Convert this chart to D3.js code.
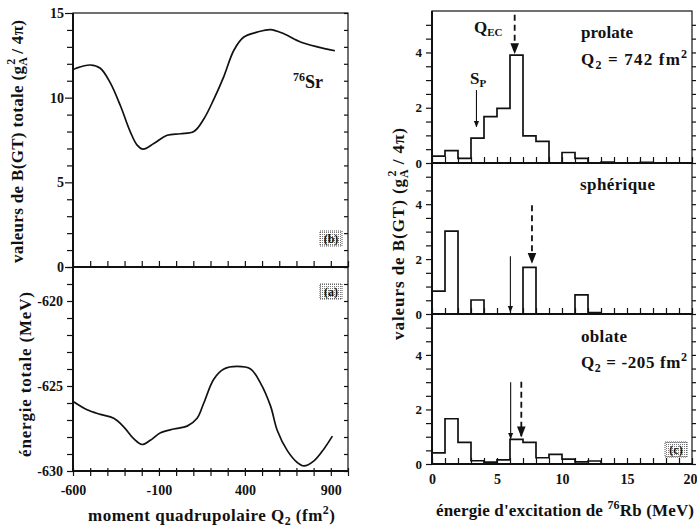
<!DOCTYPE html>
<html><head><meta charset="utf-8">
<script src="https://cdn.jsdelivr.net/npm/d3@7"></script>
<style>body{margin:0;background:#fff}svg{display:block}text{font-family:"Liberation Serif","DejaVu Serif",serif;font-weight:bold;fill:#111}</style>
</head><body>
<script>
// ---- Data ----
// Panel (b): total B(GT) vs Q2
const qB = [-600,-581,-499,-441,-383,-324,-266,-227,-192,-130,-52,25,103,161,219,278,336,394,472,550,627,724,821,924];
const bgtTotal = [11.65,11.74,11.93,11.74,10.87,9.52,7.97,7.2,6.96,7.29,7.78,7.87,8.0,8.74,9.9,11.26,12.8,13.58,13.87,14.02,13.77,13.29,13.0,12.77];
// Panel (a): total energy vs Q2
const qE = [-600,-592,-518,-441,-363,-305,-247,-198,-150,-91,-14,64,122,161,219,278,355,433,491,550,588,647,705,744,802,860,909];
const energyTotal = [-625.9,-625.96,-626.4,-626.67,-626.9,-627.4,-628.1,-628.44,-628.19,-627.75,-627.53,-627.36,-626.9,-626.0,-624.6,-624.0,-623.85,-624.0,-624.83,-626.2,-627.6,-628.8,-629.5,-629.7,-629.4,-628.7,-627.95];
const qTicksMajor = [-600,-100,400,900];
const bTicksMajor = [0,5,10,15];
const eTicksMajor = [-630,-625,-620];
// Panel (c): B(GT) distributions, 1 MeV bins
const binEdges = [0,1,2,3,4,5,6,7,8,9,10,11,12,13,14,15,16,17,18,19,20];
const shapes = ["prolate","sphérique","oblate"];
const prolate  = [0.25,0.45,0.17,0.9,1.68,1.98,3.9,0.98,0.78,0,0.38,0.17,0,0.03,0,0,0.02,0,0,0];
const spherique= [0.83,3.02,0,0.51,0,0,0,1.7,0,0,0,0.7,0.05,0,0,0,0,0,0,0];
const oblate   = [0.41,1.66,0.79,0.12,0.07,0.15,0.9,0.79,0.23,0.35,0.18,0.08,0.11,0,0,0,0,0,0,0];
const eTicksMajorC = [0,5,10,15,20];
const yTicksMajorC = [0,2,4];
// arrows: panel, energy, from, to, dashed
const arrowPanel = [0,0,1,1,2,2];
const arrowE     = [3.42,6.36,6.03,7.69,6.05,6.87];
const arrowFrom  = [2.64,5.36,2.1,3.96,3.0,3.02];
const arrowTo    = [1.31,3.98,0.08,1.87,0.93,1.02];
const arrowDash  = [false,true,false,true,false,true];

const W=697,H=529;
const svg=d3.select("body").append("svg").attr("width",W).attr("height",H);
const defs=svg.append("defs");
defs.append("marker").attr("id","ah").attr("viewBox","0 0 10 10").attr("refX",9).attr("refY",5)
 .attr("markerWidth",6).attr("markerHeight",6).attr("orient","auto")
 .append("path").attr("d","M0,1 L10,5 L0,9 Z").attr("fill","#111");
const pat=defs.append("pattern").attr("id","stip").attr("width",2).attr("height",2).attr("patternUnits","userSpaceOnUse");
pat.append("rect").attr("width",2).attr("height",2).attr("fill","#fff");
pat.append("rect").attr("width",1).attr("height",1).attr("fill","#777");

// ---- Left panels ----
const xQ=d3.scaleLinear().domain([-600,1000]).range([73,348]);
const yB=d3.scaleLinear().domain([0,15]).range([267,13]);
const yE=d3.scaleLinear().domain([-630,-618]).range([471,267]);

function box(x0,x1,y0,y1,g){
  g.append("rect").attr("x",x0).attr("y",y0).attr("width",x1-x0).attr("height",y1-y0)
   .attr("fill","none").attr("stroke","#111").attr("stroke-width",1.2);
}
const L=svg.append("g");
box(73,348,13,267,L); box(73,348,267,471,L);
L.append("line").attr("x1",73).attr("x2",73).attr("y1",13).attr("y2",471).attr("stroke","#111").attr("stroke-width",2);
L.append("line").attr("x1",73).attr("x2",348).attr("y1",267).attr("y2",267).attr("stroke","#111").attr("stroke-width",2);
L.append("line").attr("x1",73).attr("x2",348).attr("y1",471).attr("y2",471).attr("stroke","#111").attr("stroke-width",2);

const axB=d3.axisLeft(yB).tickValues(d3.range(0,16,1)).tickSize(6).tickFormat(d=>bTicksMajor.includes(d)?d:"");
const gB=L.append("g").attr("transform","translate(73,0)").call(axB);
const axE=d3.axisLeft(yE).tickValues(d3.range(-630,-617,1)).tickSize(6).tickFormat(d=>eTicksMajor.includes(d)?d:"");
const gE=L.append("g").attr("transform","translate(73,0)").call(axE);
const axQ=d3.axisBottom(xQ).tickValues(d3.range(-600,1001,100)).tickSize(5).tickFormat(d=>qTicksMajor.includes(d)?d:"");
const gQ=L.append("g").attr("transform","translate(0,471)").call(axQ);
L.append("g").attr("transform","translate(0,471)").call(d3.axisTop(xQ).tickValues(d3.range(-600,1001,100)).tickSize(3).tickFormat(""));
L.append("g").attr("transform","translate(0,267)").call(d3.axisTop(xQ).tickValues(d3.range(-600,1001,100)).tickSize(6).tickFormat(""));
L.append("g").attr("transform","translate(348,0)").call(d3.axisLeft(yB).tickValues(d3.range(0,16,1)).tickSize(4).tickFormat(""));
L.append("g").attr("transform","translate(348,0)").call(d3.axisLeft(yE).tickValues(d3.range(-630,-617,1)).tickSize(4).tickFormat(""));
L.selectAll(".domain").remove();
L.selectAll(".tick line").attr("stroke","#111").attr("stroke-width",1.2);
gB.selectAll(".tick text").attr("font-size",14).attr("x",-9);
gE.selectAll(".tick text").attr("font-size",14).attr("x",-10);
gQ.selectAll(".tick text").attr("font-size",14).attr("y",14).attr("dy","0.71em");
gB.selectAll(".tick line").attr("x2",d=>bTicksMajor.includes(d)?-8:-6);

const lineB=d3.line().x((d,i)=>xQ(qB[i])).y(d=>yB(d)).curve(d3.curveCatmullRom);
L.append("path").attr("d",lineB(bgtTotal)).attr("fill","none").attr("stroke","#111").attr("stroke-width",1.7);
const lineE=d3.line().x((d,i)=>xQ(qE[i])).y(d=>yE(d)).curve(d3.curveCatmullRom);
L.append("path").attr("d",lineE(energyTotal)).attr("fill","none").attr("stroke","#111").attr("stroke-width",1.7);

const tSr=L.append("text").attr("x",293).attr("y",88).attr("font-size",18);
tSr.append("tspan").attr("font-size",12).attr("dy",-7).text("76");
tSr.append("tspan").attr("dy",7).text("Sr");

function tagBox(g,x,y,w,h,lab){
  g.append("rect").attr("x",x).attr("y",y).attr("width",w).attr("height",h).attr("fill","url(#stip)").attr("stroke","#555").attr("stroke-dasharray","1,1");
  g.append("text").attr("x",x+w/2).attr("y",y+h-3.5).attr("text-anchor","middle").attr("font-size",12).text(lab);
}
tagBox(L,320,231,22,15,"(b)");
tagBox(L,320,284,22,15,"(a)");

const yl1=L.append("text").attr("transform","translate(23,141.5) rotate(-90)").attr("text-anchor","middle").attr("font-size",17)
  .attr("textLength",243).attr("lengthAdjust","spacing");
yl1.append("tspan").text("valeurs de B(GT) totale (g");
yl1.append("tspan").attr("font-size",12).attr("dy",4).text("A");
yl1.append("tspan").attr("font-size",12).attr("dx",-8).attr("dy",-12).text("2");
yl1.append("tspan").attr("dy",8).text(" / 4π)");
L.append("text").attr("transform","translate(31,374.5) rotate(-90)").attr("text-anchor","middle").attr("font-size",17)
  .attr("textLength",165).attr("lengthAdjust","spacing").text("énergie totale (MeV)");
const xl1=L.append("text").attr("x",88).attr("y",521).attr("font-size",17).attr("textLength",247).attr("lengthAdjust","spacing");
xl1.append("tspan").text("moment quadrupolaire Q");
xl1.append("tspan").attr("font-size",12).attr("dy",4).text("2");
xl1.append("tspan").attr("dy",-4).text(" (fm");
xl1.append("tspan").attr("font-size",12).attr("dy",-7).text("2");
xl1.append("tspan").attr("dy",7).text(")");

// ---- Right panels ----
const xR=d3.scaleLinear().domain([0,20]).range([432,692]);
const pTop=[11,163,314], pBot=[163,314,464];
const seriesC=[prolate,spherique,oblate];
const R=svg.append("g");
const yScales=[];
seriesC.forEach((vals,p)=>{
  const y=d3.scaleLinear().domain([0,5.5]).range([pBot[p],pTop[p]]);
  yScales.push(y);
  R.append("rect").attr("x",432).attr("y",pTop[p]).attr("width",260).attr("height",pBot[p]-pTop[p]).attr("fill","none").attr("stroke","#111").attr("stroke-width",1.2);
  const ga=R.append("g").attr("transform","translate(432,0)").call(d3.axisLeft(y).tickValues(d3.range(0,5.5,0.5)).tickSize(6).tickFormat(d=>yTicksMajorC.includes(d)?d:""));
  ga.selectAll(".tick text").attr("font-size",13).attr("x",-10);
  R.append("g").attr("transform","translate(692,0)").call(d3.axisRight(y).tickValues(d3.range(0,5.5,0.5)).tickSize(4).tickFormat(""));
  R.append("g").attr("transform",`translate(0,${pBot[p]})`).call(d3.axisTop(xR).tickValues(binEdges).tickSize(6).tickFormat(""));
  const pts=[[0,0]];
  vals.forEach((v,i)=>{pts.push([binEdges[i],v]);pts.push([binEdges[i+1],v]);});
  pts.push([20,0]);
  R.append("path").attr("d",d3.line().x(d=>xR(d[0])).y(d=>y(d[1]))(pts)).attr("fill","none").attr("stroke","#111").attr("stroke-width",1.7);
  R.append("line").attr("x1",432).attr("x2",692).attr("y1",pBot[p]).attr("y2",pBot[p]).attr("stroke","#111").attr("stroke-width",2);
});
R.append("line").attr("x1",432).attr("x2",432).attr("y1",11).attr("y2",464).attr("stroke","#111").attr("stroke-width",2);
R.selectAll(".domain").remove();
R.selectAll(".tick line").attr("stroke","#111").attr("stroke-width",1.2);
const gxb=R.append("g").attr("transform","translate(0,464)").call(d3.axisBottom(xR).tickValues(eTicksMajorC).tickSize(0));
gxb.select(".domain").remove();
gxb.selectAll(".tick text").attr("font-size",14).attr("y",10).attr("dy","0.71em")
  .attr("text-anchor",d=>d===20?"end":"middle").attr("x",d=>d===20?5:0);

arrowE.forEach((e,i)=>{
  const y=yScales[arrowPanel[i]];
  R.append("line").attr("x1",xR(e)).attr("x2",xR(e)).attr("y1",y(arrowFrom[i])).attr("y2",y(arrowTo[i]))
   .attr("stroke","#111").attr("stroke-width",arrowDash[i]?1.8:1.1)
   .attr("stroke-dasharray",arrowDash[i]?"6,4":null).attr("marker-end","url(#ah)");
});

R.append("text").attr("x",581).attr("y",38).attr("font-size",17).attr("textLength",52).attr("lengthAdjust","spacing").text("prolate");
function qlab(x,y,val){
  const t=R.append("text").attr("x",x).attr("y",y).attr("font-size",17).attr("textLength",106).attr("lengthAdjust","spacing");
  t.append("tspan").text("Q");
  t.append("tspan").attr("font-size",12).attr("dy",4).text("2");
  t.append("tspan").attr("dy",-4).text("  = "+val+" fm");
  t.append("tspan").attr("font-size",12).attr("dy",-7).text("2");
}
qlab(581,65,"742");
R.append("text").attr("x",580).attr("y",190).attr("font-size",17).attr("textLength",75).attr("lengthAdjust","spacing").text("sphérique");
R.append("text").attr("x",581).attr("y",342).attr("font-size",17).attr("textLength",46).attr("lengthAdjust","spacing").text("oblate");
qlab(581,368,"-205");
const tq=R.append("text").attr("x",474).attr("y",33).attr("font-size",17);
tq.append("tspan").text("Q");
tq.append("tspan").attr("font-size",11).attr("dy",3).text("EC");
const ts=R.append("text").attr("x",470).attr("y",84).attr("font-size",17);
ts.append("tspan").text("S");
ts.append("tspan").attr("font-size",11).attr("dy",3).text("P");
tagBox(R,665,442,22,15,"(c)");

const yl2=R.append("text").attr("transform","translate(404,234) rotate(-90)").attr("text-anchor","middle").attr("font-size",17)
  .attr("textLength",212).attr("lengthAdjust","spacing");
yl2.append("tspan").text("valeurs de B(GT) (g");
yl2.append("tspan").attr("font-size",12).attr("dy",4).text("A");
yl2.append("tspan").attr("font-size",12).attr("dx",-8).attr("dy",-12).text("2");
yl2.append("tspan").attr("dy",8).text(" / 4π)");
const xl2=R.append("text").attr("x",436).attr("y",516).attr("font-size",17).attr("textLength",258).attr("lengthAdjust","spacing");
xl2.append("tspan").text("énergie d'excitation de ");
xl2.append("tspan").attr("font-size",12).attr("dy",-7).text("76");
xl2.append("tspan").attr("dy",7).text("Rb (MeV)");
</script>
</body></html>
